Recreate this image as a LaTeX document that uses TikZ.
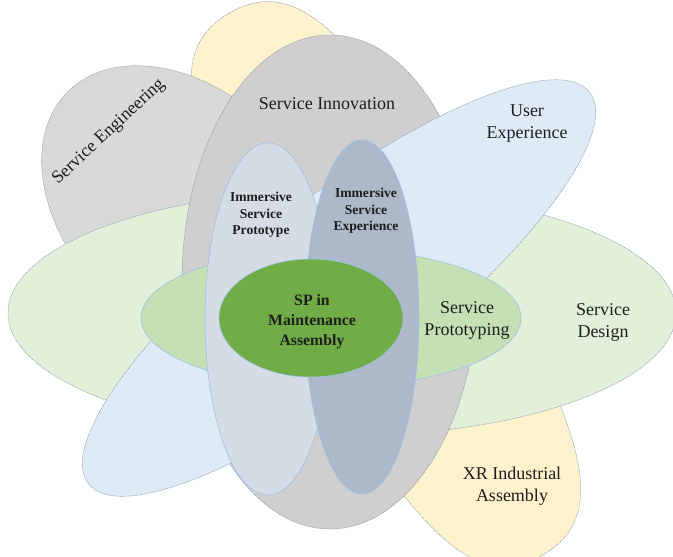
\documentclass[tikz,border=0pt]{standalone}
\usepackage{fontspec}
\setmainfont{Liberation Serif}
\usepackage{tikz}
\definecolor{xryellow}{RGB}{255, 242, 204}
\definecolor{enggrey}{RGB}{217, 217, 217}
\definecolor{innogrey}{RGB}{208, 206, 206}
\definecolor{uxblue}{RGB}{222, 235, 247}
\definecolor{designgreen}{RGB}{226, 240, 217}
\definecolor{protogreen}{RGB}{197, 224, 180}
\definecolor{ispblue}{RGB}{214, 220, 229}
\definecolor{iseblue}{RGB}{173, 185, 202}
\definecolor{spgreen}{RGB}{112, 173, 71}
\definecolor{rimgrey}{RGB}{132, 151, 176}
\definecolor{rimblue}{RGB}{157, 195, 230}
\definecolor{ink}{RGB}{30, 30, 30}
% blunt egg: fill, centre, angle, half length, half width, bluntness
\newcommand{\petal}[6]{%
  \filldraw[petal, fill=#1, shift={#2}, rotate=#3]
    (#4, 0) .. controls (#4, #6*#5) and (#6*#4, #5) .. (0, #5)
    .. controls (-#6*#4, #5) and (-#4, #6*#5) .. (-#4, 0)
    .. controls (-#4, -#6*#5) and (-#6*#4, -#5) .. (0, -#5)
    .. controls (#6*#4, -#5) and (#4, -#6*#5) .. cycle;}

\begin{document}
\begin{tikzpicture}[x=1pt, y=-1pt,
  petal/.style={draw=rimgrey, line width=0.5pt, dash pattern=on 1.2pt off 0.8pt},
  core/.style={draw=rimblue, line width=0.6pt},
  word/.style={align=center, text=ink, font=\fontsize{18}{22}\selectfont},
  strong/.style={align=center, text=ink, font=\fontsize{13.6}{16.5}\selectfont\bfseries},
  hub/.style={align=center, text=ink, font=\fontsize{15.8}{20}\selectfont\bfseries}]

  \useasboundingbox (0, 0) rectangle (673, 557);

  % outer petals
  \petal{xryellow}{(386, 284)}{-60}{313}{100}{0.76}
  \petal{enggrey}{(188, 212)}{-45}{170}{118}{0.552}
  \filldraw[petal, fill=designgreen] (342, 313) ellipse (334 and 123);
  \filldraw[petal, fill=innogrey] (330, 282) ellipse (148 and 247);
  \filldraw[petal, fill=uxblue, rotate around={38:(339, 288)}] (339, 288) ellipse (318 and 90);

  % inner ellipses
  \filldraw[core, fill=protogreen] (331, 318) ellipse (190 and 69);
  \filldraw[core, fill=ispblue] (268, 319) ellipse (63 and 176);
  \filldraw[core, fill=iseblue] (362, 317) ellipse (57 and 177);
  \filldraw[core, fill=spgreen] (311, 318) ellipse (92 and 59);

  \node[word] (inno) at (327, 104) {Service Innovation};
  \node[word, rotate=43] (eng) at (109, 132) {Service Engineering};
  \node[word] (ux) at (527, 124) {User\\Experience};
  \node[word] (proto) at (467, 320) {Service\\Prototyping};
  \node[word] (design) at (603, 322) {Service\\Design};
  \node[word] (xr) at (512, 486) {XR Industrial\\Assembly};
  \node[strong] (isp) at (261, 215) {Immersive\\Service\\Prototype};
  \node[strong] (ise) at (366, 211) {Immersive\\Service\\Experience};
  \node[hub] (sp) at (312, 321.5) {SP in\\Maintenance\\Assembly};

\end{tikzpicture}
\end{document}
